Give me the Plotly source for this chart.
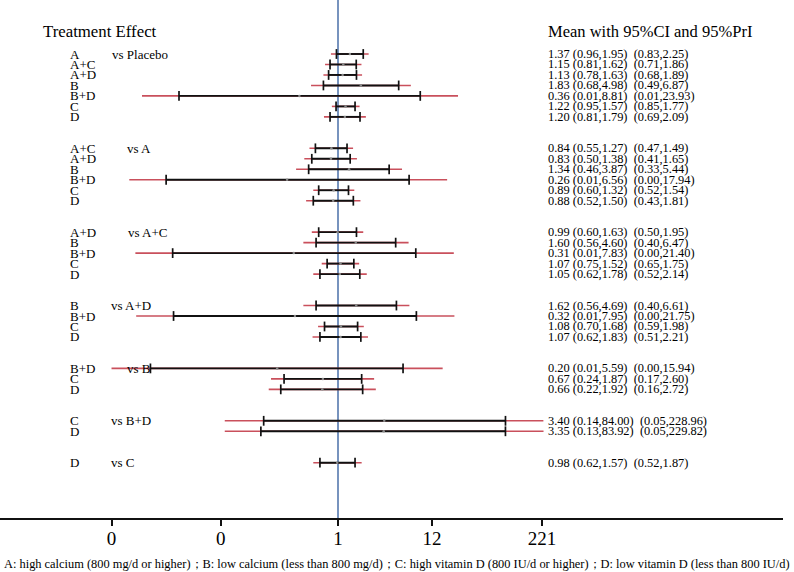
import math
import plotly.graph_objects as go

# ---------------- data ----------------
groups = ["vs Placebo", "vs A", "vs A+C", "vs A+D", "vs B", "vs B+D", "vs C"]
treatments = [
    ["A", "A+C", "A+D", "B", "B+D", "C", "D"],
    ["A+C", "A+D", "B", "B+D", "C", "D"],
    ["A+D", "B", "B+D", "C", "D"],
    ["B", "B+D", "C", "D"],
    ["B+D", "C", "D"],
    ["C", "D"],
    ["D"],
]
mean = [1.37, 1.15, 1.13, 1.83, 0.36, 1.22, 1.20,
        0.84, 0.83, 1.34, 0.26, 0.89, 0.88,
        0.99, 1.60, 0.31, 1.07, 1.05,
        1.62, 0.32, 1.08, 1.07,
        0.20, 0.67, 0.66,
        3.40, 3.35,
        0.98]
ci_lo = [0.96, 0.81, 0.78, 0.68, 0.0149, 0.95, 0.81,
         0.55, 0.50, 0.46, 0.0106, 0.60, 0.52,
         0.60, 0.56, 0.0126, 0.75, 0.62,
         0.56, 0.0129, 0.70, 0.62,
         0.0070, 0.24, 0.22,
         0.14, 0.13,
         0.62]
ci_hi = [1.95, 1.62, 1.63, 4.98, 8.81, 1.57, 1.79,
         1.27, 1.38, 3.87, 6.56, 1.32, 1.50,
         1.63, 4.60, 7.83, 1.52, 1.78,
         4.69, 7.95, 1.68, 1.83,
         5.59, 1.87, 1.92,
         84.00, 83.92,
         1.57]
pri_lo = [0.83, 0.71, 0.68, 0.49, 0.0056, 0.85, 0.69,
          0.47, 0.41, 0.33, 0.0040, 0.52, 0.43,
          0.50, 0.40, 0.0047, 0.65, 0.52,
          0.40, 0.0048, 0.59, 0.51,
          0.0025, 0.17, 0.16,
          0.05, 0.05,
          0.52]
pri_hi = [2.25, 1.86, 1.89, 6.87, 23.93, 1.77, 2.09,
          1.49, 1.65, 5.44, 17.94, 1.54, 1.81,
          1.95, 6.47, 21.40, 1.75, 2.14,
          6.61, 21.75, 1.98, 2.21,
          15.94, 2.60, 2.72,
          228.96, 229.82,
          1.87]
tick_vals = [0.0025, 0.045, 1, 12, 221]
tick_text = ["0", "0", "1", "12", "221"]
footnote = ("A: high calcium (800 mg/d or higher)；B: low calcium (less than 800 mg/d)；"
            "C: high vitamin D (800 IU/d or higher)；D: low vitamin D (less than 800 IU/d)")

# ---------------- layout helpers ----------------
FONT = "Liberation Serif, Times New Roman, serif"
W, H = 794, 572
PL, PR, PT, PB = 0, 783, 0, 518       # plot area pixels
ROW0, ROWH = 54.0, 10.48               # pixel y of row 0, row height
X1PX, PX_PER_LN = 338.0, 37.8          # pixel of value 1, pixels per ln unit
vs_px = [110, 125, 126, 109, 125, 109, 109]

rows, labels, group_first = [], [], []
r = 0
for g, tr in zip(groups, treatments):
    group_first.append(r)
    for t in tr:
        rows.append(r)
        labels.append(t)
        r += 1
    r += 2

def px2paper(px):
    return (px - PL) / (PR - PL)

def py2row(py):
    return (py - ROW0) / ROWH

def fmt(v):
    return f"{v:.2f}"

# ---------------- traces ----------------
px_, py_ = [], []
cx_, cy_ = [], []
endx, endy = [], []
for i, yy in enumerate(rows):
    px_ += [pri_lo[i], pri_hi[i], None]
    py_ += [yy, yy, None]
    cx_ += [ci_lo[i], ci_hi[i], None]
    cy_ += [yy, yy, None]
    endx += [ci_lo[i], ci_hi[i]]
    endy += [yy, yy]

fig = go.Figure()
fig.add_trace(go.Scatter(x=px_, y=py_, mode="lines",
                         line=dict(color="#c9505c", width=1.6),
                         hoverinfo="skip", showlegend=False))
fig.add_trace(go.Scatter(x=cx_, y=cy_, mode="lines",
                         line=dict(color="#111111", width=1.9),
                         hoverinfo="skip", showlegend=False))
fig.add_trace(go.Scatter(x=endx, y=endy, mode="markers",
                         marker=dict(symbol="line-ns", size=7,
                                     line=dict(color="#111111", width=1.7)),
                         hoverinfo="skip", showlegend=False))
fig.add_trace(go.Scatter(x=mean, y=rows, mode="markers",
                         marker=dict(symbol="circle", size=2.5, color="#8a8a8a"),
                         showlegend=False))

ann = []
ann.append(dict(x=px2paper(41), y=py2row(31), xref="paper", yref="y",
                text="Treatment Effect",
                xanchor="left", yanchor="middle", showarrow=False,
                font=dict(family=FONT, size=16.8, color="black")))
ann.append(dict(x=px2paper(546), y=py2row(31), xref="paper", yref="y",
                text="Mean with 95%CI and 95%PrI",
                xanchor="left", yanchor="middle", showarrow=False,
                font=dict(family=FONT, size=16.5, color="black")))
for i, yy in enumerate(rows):
    ann.append(dict(x=px2paper(68), y=yy, xref="paper", yref="y", text=labels[i],
                    xanchor="left", yanchor="middle", showarrow=False,
                    font=dict(family=FONT, size=13, color="black")))
    txt = (f"{fmt(mean[i])} ({fmt(ci_lo[i])},{fmt(ci_hi[i])})\u00a0\u00a0"
           f"({fmt(pri_lo[i])},{fmt(pri_hi[i])})")
    ann.append(dict(x=px2paper(546), y=yy, xref="paper", yref="y", text=txt,
                    xanchor="left", yanchor="middle", showarrow=False,
                    font=dict(family=FONT, size=12.4, color="black")))
for g, gf, vx in zip(groups, group_first, vs_px):
    ann.append(dict(x=px2paper(vx), y=gf, xref="paper", yref="y", text=g,
                    xanchor="left", yanchor="middle", showarrow=False,
                    font=dict(family=FONT, size=13, color="black")))
ann.append(dict(x=px2paper(2), y=1 - (564 - PT) / (PB - PT), xref="paper", yref="paper",
                text=footnote, xanchor="left", yanchor="middle", showarrow=False,
                font=dict(family=FONT, size=12.4, color="black")))

k = PX_PER_LN * math.log(10)  # px per decade
xr = [(PL - X1PX) / k, (PR - X1PX) / k]
yr = [py2row(PB), py2row(PT)]

fig.update_layout(
    width=W, height=H,
    margin=dict(l=PL, r=W - PR, t=PT, b=H - PB, pad=0, autoexpand=False),
    paper_bgcolor="white", plot_bgcolor="white",
    font=dict(family=FONT, color="black"),
    xaxis=dict(type="log", range=xr, tickvals=tick_vals, ticktext=tick_text,
               showgrid=False, zeroline=False, showline=True, linecolor="#111111",
               linewidth=1.5, ticks="outside", ticklen=6, tickwidth=1.5,
               tickcolor="#111111", tickfont=dict(family=FONT, size=19),
               ticklabelstandoff=-4,
               tickangle=0, automargin=False, fixedrange=True),
    yaxis=dict(range=yr, visible=False, showgrid=False, zeroline=False,
               automargin=False, fixedrange=True),
    annotations=ann,
    shapes=[dict(type="line", xref="x", yref="paper", x0=1, x1=1, y0=0, y1=1,
                 line=dict(color="#4a6fa8", width=1.5), layer="below")],
)

fig.write_html(
    "out.html",
    config={"displayModeBar": False},
    post_script="document.body.style.margin='0';document.body.style.overflow='hidden';",
)
